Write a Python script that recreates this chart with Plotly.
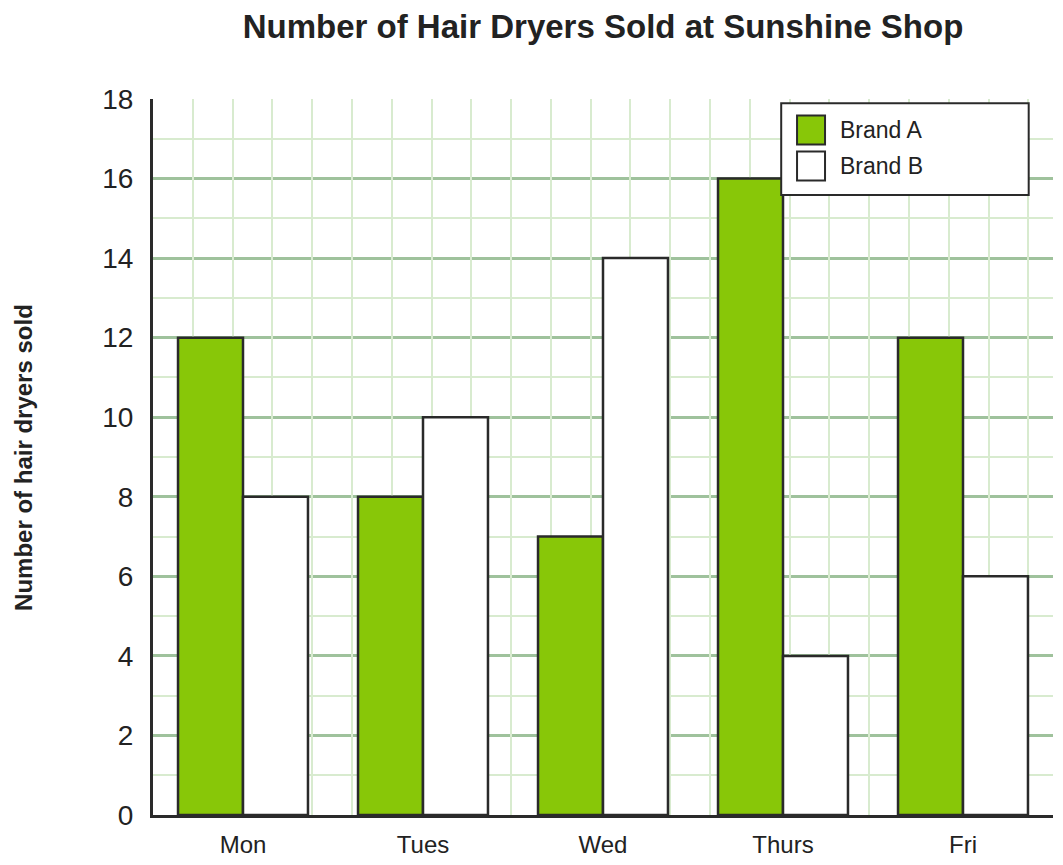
import plotly.graph_objects as go

days = ["Mon", "Tues", "Wed", "Thurs", "Fri"]
brand_a = [12, 8, 7, 16, 12]
brand_b = [8, 10, 14, 4, 6]
y_ticks = list(range(0, 19, 2))
series_names = ["Brand A", "Brand B"]

GREEN = "#88c708"
EDGE = "#2a2a2a"
FONT = "Liberation Sans, Arial, sans-serif"
fills = [GREEN, "white"]

fig = go.Figure()
for name, vals, col in zip(series_names, [brand_a, brand_b], fills):
    fig.add_trace(go.Bar(x=days, y=vals, name=name, showlegend=False,
                         marker=dict(color=col, line=dict(color=EDGE, width=2.5))))
# invisible trace on an overlay axis, only to draw the vertical grid
fig.add_trace(go.Scatter(x=[0, 22.62], y=[0, 0], xaxis="x2", mode="none",
                         showlegend=False, hoverinfo="skip"))

# legend box drawn by hand (paper coords), plotly's own swatches are too small
shapes = [dict(type="rect", xref="paper", yref="paper", x0=0.698, x1=0.973,
               y0=0.866, y1=0.994, fillcolor="white",
               line=dict(color=EDGE, width=2), layer="above")]
annots = []
for i, (name, col) in enumerate(zip(series_names, fills)):
    yc = 0.9567 - i * 0.0503
    shapes.append(dict(type="rect", xref="paper", yref="paper",
                       x0=0.7156, x1=0.7467, y0=yc - 0.0203, y1=yc + 0.0203,
                       fillcolor=col, line=dict(color=EDGE, width=2), layer="above"))
    annots.append(dict(text=name, xref="paper", yref="paper", x=0.7611, y=yc,
                       xanchor="left", yanchor="middle", showarrow=False,
                       font=dict(size=23, color="#222222")))

annots.append(dict(text="<b>Number of hair dryers sold</b>", textangle=-90,
                   xref="paper", yref="paper", x=-0.1445, y=0.5,
                   xanchor="center", yanchor="middle", showarrow=False,
                   font=dict(size=24, color="#222222")))

fig.update_layout(
    width=1047, height=849,
    margin=dict(l=145, r=2, t=91, b=42, autoexpand=False),
    paper_bgcolor="white", plot_bgcolor="white",
    font=dict(family=FONT, color="#222222"),
    title=dict(text="<b>Number of Hair Dryers Sold at Sunshine Shop</b>",
               x=0.5, xref="paper", xanchor="center", y=0.978, yanchor="middle",
               font=dict(size=33, color="#222222")),
    barmode="group", bargap=0.278, bargroupgap=0,
    xaxis=dict(showgrid=False, showline=True, linecolor=EDGE, linewidth=3,
               ticks="outside", ticklen=6, tickcolor="rgba(0,0,0,0)",
               tickfont=dict(size=24), zeroline=False, automargin=False),
    xaxis2=dict(overlaying="x", range=[0, 22.62], dtick=1, showgrid=True,
                gridcolor="#d8ebcf", gridwidth=2, showticklabels=False,
                zeroline=False, showline=False, automargin=False),
    yaxis=dict(range=[0, 18], tickvals=y_ticks, showgrid=True,
               gridcolor="#9fc29c", gridwidth=2.5,
               minor=dict(dtick=1, showgrid=True, gridcolor="#d8ebcf", gridwidth=2),
               showline=True, linecolor=EDGE, linewidth=3, ticks="outside",
               ticklen=11, tickcolor="rgba(0,0,0,0)", zeroline=False,
               tickfont=dict(size=28), automargin=False),
    showlegend=False,
    shapes=shapes,
    annotations=annots,
)

fig.write_html("out.html")
